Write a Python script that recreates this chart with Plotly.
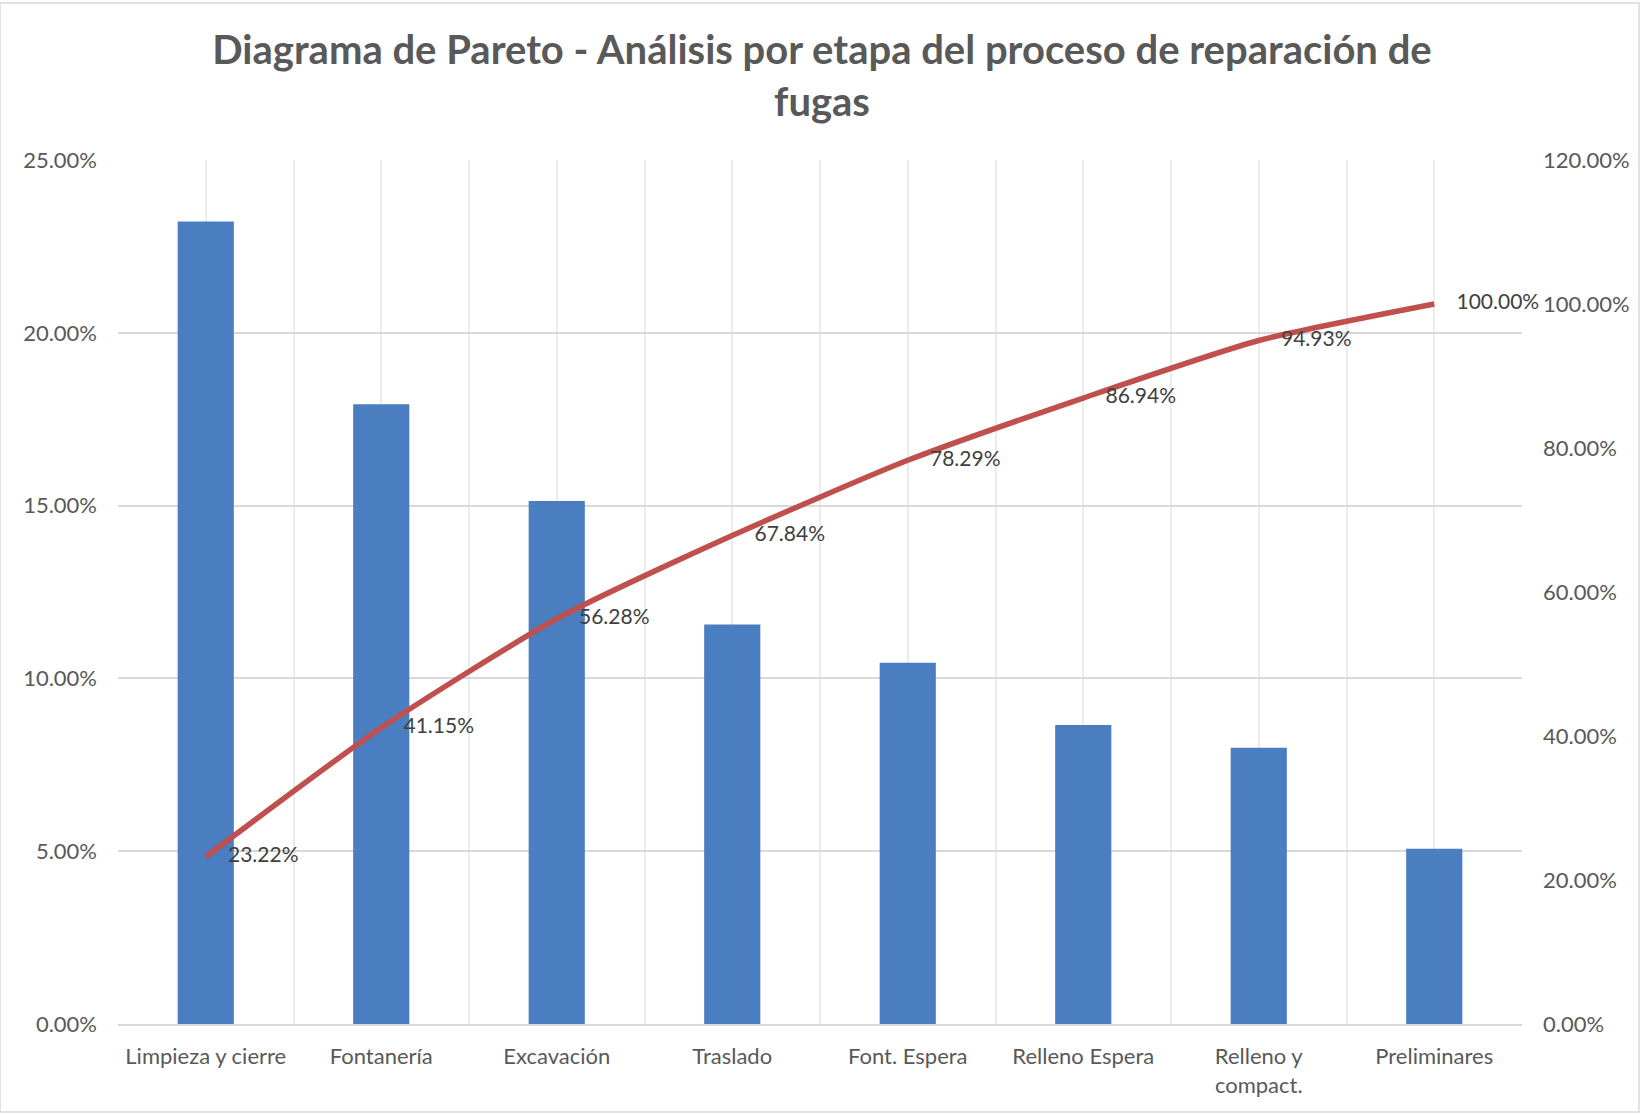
import plotly.graph_objects as go

# Stages of the leak-repair process and their share of the total
categories = ["Limpieza y cierre", "Fontanería", "Excavación", "Traslado",
              "Font. Espera", "Relleno Espera", "Relleno y<br>compact.", "Preliminares"]
share_pct = [23.22, 17.93, 15.13, 11.56, 10.45, 8.65, 7.99, 5.07]
cumulative_pct = [23.22, 41.15, 56.28, 67.84, 78.29, 86.94, 94.93, 100.00]

left_ticks = [0, 5, 10, 15, 20, 25]
right_ticks = [0, 20, 40, 60, 80, 100, 120]

FONT = "Lato"
TEXT_GREY = "#595959"
x_pos = list(range(len(categories)))


def pct(v):
    return f"{v:.2f}%"


fig = go.Figure()

fig.add_trace(go.Bar(
    x=x_pos, y=share_pct, width=0.32,
    marker=dict(color="#4a7ec0", line=dict(width=0)),
    hovertemplate="%{y:.2f}%<extra></extra>",
    showlegend=False,
))

fig.add_trace(go.Scatter(
    x=x_pos, y=cumulative_pct, yaxis="y2",
    mode="lines+markers+text",
    line=dict(color="#c0504d", width=5.5, shape="spline", smoothing=0.6),
    marker=dict(size=34, color="rgba(0,0,0,0)"),
    text=[pct(v) for v in cumulative_pct],
    textposition="middle right",
    textfont=dict(family=FONT, size=21, color="#404040"),
    cliponaxis=False,
    showlegend=False,
))

fig.update_layout(
    width=1644, height=1115,
    margin=dict(l=118, r=122, t=160, b=91),
    paper_bgcolor="white", plot_bgcolor="white",
    font=dict(family=FONT, color=TEXT_GREY),
    title=dict(
        text="<b>Diagrama de Pareto - Análisis por etapa del proceso de reparación de<br>fugas</b>",
        x=0.5, xanchor="center", y=0.943, yanchor="middle",
        font=dict(family=FONT, size=40, color=TEXT_GREY),
    ),
    xaxis=dict(
        range=[-0.5, len(categories) - 0.5],
        tickmode="array", tickvals=x_pos, ticktext=categories,
        tickfont=dict(family=FONT, size=22, color=TEXT_GREY),
        showgrid=True, gridcolor="#ececec", gridwidth=1.5,
        minor=dict(tickmode="array",
                   tickvals=[i - 0.5 for i in range(len(categories) + 1)],
                   showgrid=True, gridcolor="#ececec", gridwidth=1.5),
        showline=True, linecolor="#d9d9d9", linewidth=1.5,
        ticks="", ticklabelstandoff=12, zeroline=False,
    ),
    yaxis=dict(
        range=[0, 25], tickmode="array", tickvals=left_ticks,
        ticktext=[pct(v) for v in left_ticks],
        tickfont=dict(family=FONT, size=22, color=TEXT_GREY),
        showgrid=True, gridcolor="#d9d9d9", gridwidth=1.5,
        zeroline=False, ticks="", ticklabelstandoff=20,
    ),
    yaxis2=dict(
        range=[0, 120], tickmode="array", tickvals=right_ticks,
        ticktext=[pct(v) for v in right_ticks],
        tickfont=dict(family=FONT, size=22, color=TEXT_GREY),
        overlaying="y", side="right", showgrid=False, zeroline=False,
        ticks="", ticklabelstandoff=20,
    ),
    bargap=0.68,
    shapes=[dict(type="rect", xref="paper", yref="paper",
                 x0=-118 / 1404, x1=1 + 117 / 1404, y0=-88 / 864, y1=1 + 157 / 864,
                 line=dict(color="#d9d9d9", width=1.5), layer="below")],
)

fig.write_html("out.html")
